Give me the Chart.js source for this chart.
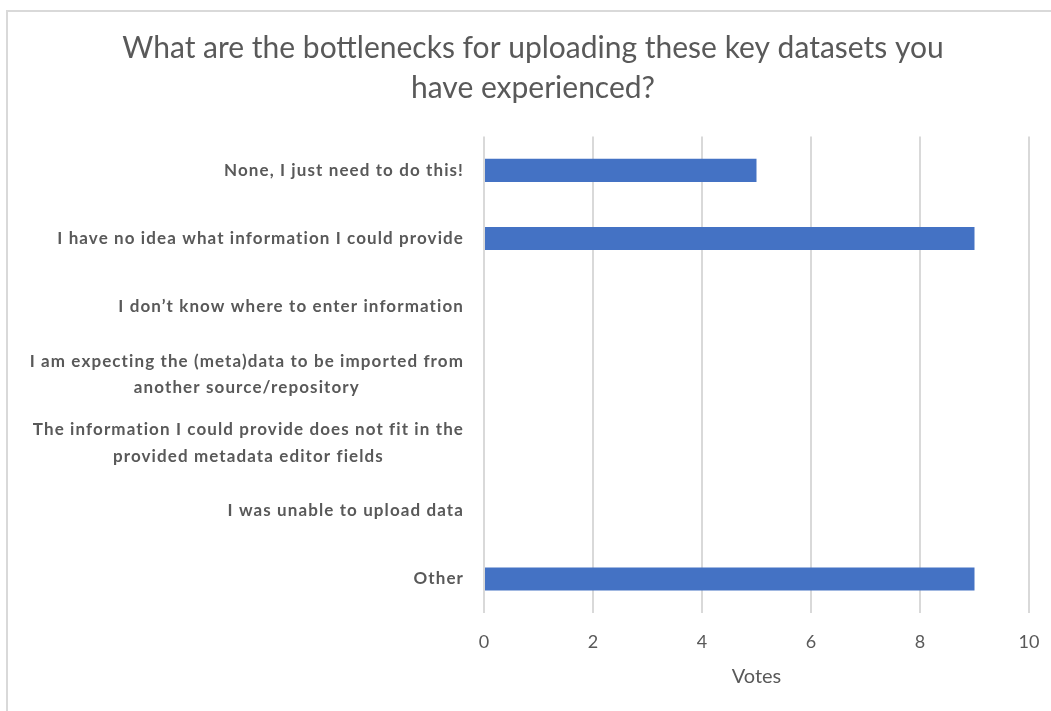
<!DOCTYPE html>
<html>
<head>
<meta charset="utf-8">
<script src="https://cdn.jsdelivr.net/npm/chart.js@4"></script>
<style>
  body { margin: 0; background: #fff; }
  #wrap { position: relative; width: 1051px; height: 711px; overflow: hidden; }
  #frame { position: absolute; left: 6px; top: 10px; width: 1100px; height: 760px; border: 2px solid #d9d9d9; box-sizing: border-box; }
  canvas { position: absolute; left: 0; top: 0; }
</style>
</head>
<body>
<div id="wrap">
  <div id="frame"></div>
  <canvas id="votesChart" width="1066" height="711"></canvas>
</div>
<script>
const categories = [
    ['None, I just need to do this!'],
    ['I have no idea what information I could provide'],
    ['I don\u2019t know where to enter information'],
    ['I am expecting the (meta)data to be imported from', 'another source/repository'],
    ['The information I could provide does not fit in the', 'provided metadata editor fields'],
    ['I was unable to upload data'],
    ['Other']
];
const votes = [5, 9, 0, 0, 0, 0, 9];
const titleLines = ['What are the bottlenecks for uploading these key datasets you', 'have experienced?'];
const axisTitle = 'Votes';

const textColor = '#595959';
const labelFont = 'bold 17px Lato';

// y labels drawn by hand so wrapped lines centre under each other like the original
const yLabels = {
    id: 'yLabels',
    afterDraw(chart) {
        const ctx = chart.ctx;
        const y = chart.scales.y;
        const right = 464;
        ctx.save();
        ctx.font = labelFont;
        ctx.letterSpacing = '1.1px';
        ctx.fillStyle = textColor;
        ctx.textBaseline = 'middle';
        ctx.textAlign = 'center';
        categories.forEach(function(lines, i){
            const cy = y.getPixelForValue(i);
            const w = Math.max.apply(null, lines.map(l => ctx.measureText(l).width));
            const lh = 26.5;
            const top = cy - (lines.length - 1) * lh / 2;
            lines.forEach(function(l, j){
                ctx.fillText(l, right - w / 2, top + j * lh);
            });
        });
        ctx.restore();
    }
};

new Chart(document.getElementById('votesChart'), {
    type: 'bar',
    data: {
        labels: categories,
        datasets: [{
            label: axisTitle,
            data: votes,
            backgroundColor: '#4472C4',
            borderWidth: 0,
            barPercentage: 0.34,
            categoryPercentage: 1
        }]
    },
    plugins: [yLabels],
    options: {
        indexAxis: 'y',
        responsive: false,
        animation: false,
        layout: { padding: { top: 0, right: 0, bottom: 22, left: 0 } },
        plugins: {
            legend: { display: false },
            tooltip: { enabled: false },
            title: {
                display: true,
                text: titleLines,
                color: textColor,
                font: { family: 'Lato', size: 30, weight: 'normal', lineHeight: 1.34 },
                padding: { top: 28, bottom: 28 }
            }
        },
        scales: {
            x: {
                min: 0,
                max: 10,
                ticks: { stepSize: 2, color: textColor, padding: 18, font: { family: 'Lato', size: 18 } },
                grid: { color: '#d9d9d9', lineWidth: 2, drawTicks: false },
                border: { display: false },
                title: {
                    display: true,
                    text: axisTitle,
                    color: textColor,
                    font: { family: 'Lato', size: 20 },
                    padding: { top: 12, bottom: 0 }
                },
                afterFit: function(scale){
                    scale.height = 76;
                    scale.paddingRight = 37;
                }
            },
            y: {
                ticks: { color: 'rgba(0,0,0,0)', font: { family: 'Lato', size: 15, weight: 'bold' } },
                grid: { display: false },
                border: { display: false },
                afterFit: function(scale){ scale.width = 484; }
            }
        }
    }
});
</script>
</body>
</html>
